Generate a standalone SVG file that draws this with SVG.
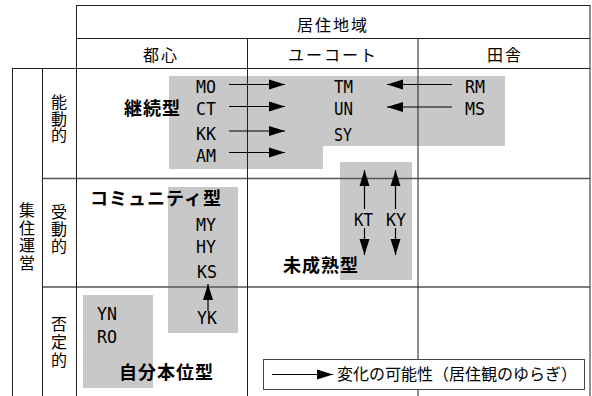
<svg xmlns="http://www.w3.org/2000/svg" width="592" height="396" viewBox="0 0 592 396">
<style>
.bg{fill:#c8c8c8;stroke:none}
.ln{stroke:#222;stroke-width:1;fill:none}
.lg{stroke:#555;stroke-width:1.5;fill:none}
.jp{font-family:"Noto Sans CJK JP","Noto Sans",sans-serif;font-size:16px;fill:#000}
.hd{letter-spacing:2px;text-anchor:middle}
.vt{writing-mode:vertical-rl;font-size:16px}
.ty{font-family:"Noto Sans CJK JP",sans-serif;font-size:18px;font-weight:bold;fill:#000;letter-spacing:1px}
.lb{font-family:"DejaVu Sans Mono","Liberation Mono",monospace;font-size:18px;fill:#000}
.ar{stroke:#000;stroke-width:1.2;fill:none;marker-end:url(#ah)}
</style>
<defs>
<marker id="ah" markerUnits="userSpaceOnUse" markerWidth="17" markerHeight="11" refX="16" refY="5.5" orient="auto">
<path d="M0,0.5 L16,5.5 L0,10.5 z" fill="#000"/>
</marker>
</defs>
<rect width="592" height="396" fill="#fff"/>

<g id="node-keizoku">
<polygon class="bg" points="169,76 505,76 505,146 323,146 323,169 169,169"/>
</g>
<g id="node-miseijuku">
<rect class="bg" x="340" y="162" width="72" height="118"/>
</g>
<g id="node-community">
<rect class="bg" x="168" y="187" width="70" height="146"/>
</g>
<g id="node-jibun">
<rect class="bg" x="83" y="295" width="70" height="93"/>
</g>

<g id="grid">
<line class="ln" x1="76" y1="5.5" x2="590" y2="5.5"/>
<line class="ln" x1="76" y1="38.5" x2="590" y2="38.5"/>
<line class="ln" x1="12" y1="68.5" x2="590" y2="68.5"/>
<line class="lg" x1="42" y1="178.5" x2="590" y2="178.5"/>
<line class="lg" x1="42" y1="287" x2="590" y2="287"/>
<line class="ln" x1="12.5" y1="68" x2="12.5" y2="396"/>
<line class="ln" x1="42.5" y1="68" x2="42.5" y2="396"/>
<line class="ln" x1="76.5" y1="5" x2="76.5" y2="396"/>
<line class="ln" x1="247.5" y1="38" x2="247.5" y2="396"/>
<line class="ln" x1="418" y1="38" x2="418" y2="396"/>
<line class="ln" x1="590" y1="5" x2="590" y2="396"/>
</g>

<g id="headers">
<text class="jp hd" x="333" y="31">居住地域</text>
<text class="jp hd" x="161" y="61">都心</text>
<text class="jp hd" x="333" y="61">ユーコート</text>
<text class="jp hd" x="505" y="61">田舎</text>
<text class="jp vt" x="59" y="94" letter-spacing="0.5">能動的</text>
<text class="jp vt" x="59" y="204" letter-spacing="1">受動的</text>
<text class="jp vt" x="59" y="316" letter-spacing="2">否定的</text>
<text class="jp vt" x="27" y="202" letter-spacing="1.5">集住運営</text>
</g>

<g id="types">
<text class="ty" x="124" y="115">継続型</text>
<text class="ty" x="90" y="205">コミュニティ型</text>
<text class="ty" x="283" y="272">未成熟型</text>
<text class="ty" x="119" y="379">自分本位型</text>
</g>

<g id="labels">
<text class="lb" x="196" y="93" textLength="20" lengthAdjust="spacingAndGlyphs">MO</text>
<text class="lb" x="196" y="115" textLength="20" lengthAdjust="spacingAndGlyphs">CT</text>
<text class="lb" x="196" y="140" textLength="20" lengthAdjust="spacingAndGlyphs">KK</text>
<text class="lb" x="196" y="162" textLength="20" lengthAdjust="spacingAndGlyphs">AM</text>
<text class="lb" x="334" y="93" textLength="19" lengthAdjust="spacingAndGlyphs">TM</text>
<text class="lb" x="334" y="115" textLength="19" lengthAdjust="spacingAndGlyphs">UN</text>
<text class="lb" x="334" y="141" textLength="18" lengthAdjust="spacingAndGlyphs">SY</text>
<text class="lb" x="465" y="93" textLength="20" lengthAdjust="spacingAndGlyphs">RM</text>
<text class="lb" x="465" y="115" textLength="20" lengthAdjust="spacingAndGlyphs">MS</text>
<text class="lb" x="354" y="226" textLength="19" lengthAdjust="spacingAndGlyphs">KT</text>
<text class="lb" x="386" y="226" textLength="20" lengthAdjust="spacingAndGlyphs">KY</text>
<text class="lb" x="196" y="231" textLength="20" lengthAdjust="spacingAndGlyphs">MY</text>
<text class="lb" x="196" y="253" textLength="20" lengthAdjust="spacingAndGlyphs">HY</text>
<text class="lb" x="197" y="278" textLength="20" lengthAdjust="spacingAndGlyphs">KS</text>
<text class="lb" x="197" y="324" textLength="20" lengthAdjust="spacingAndGlyphs">YK</text>
<text class="lb" x="97" y="320" textLength="20" lengthAdjust="spacingAndGlyphs">YN</text>
<text class="lb" x="97" y="343" textLength="20" lengthAdjust="spacingAndGlyphs">RO</text>
</g>

<g id="connectors">
<line class="ar" x1="229" y1="84.5" x2="285" y2="84.5"/>
<line class="ar" x1="229" y1="106.5" x2="285" y2="106.5"/>
<line class="ar" x1="229" y1="131" x2="285" y2="131"/>
<line class="ar" x1="229" y1="152.5" x2="285" y2="152.5"/>
<line class="ar" x1="452" y1="84.5" x2="387" y2="84.5"/>
<line class="ar" x1="452" y1="107" x2="387" y2="107"/>
<line class="ar" x1="364.5" y1="209" x2="364.5" y2="170"/>
<line class="ar" x1="364.5" y1="228" x2="364.5" y2="255"/>
<line class="ar" x1="395.5" y1="209" x2="395.5" y2="170"/>
<line class="ar" x1="395.5" y1="228" x2="395.5" y2="255"/>
<line class="ar" x1="208" y1="311" x2="208" y2="284"/>
</g>

<g id="legend">
<rect x="263.5" y="359.5" width="321" height="30" fill="#fff" stroke="#444" stroke-width="1"/>
<line class="ar" x1="272" y1="374.5" x2="333" y2="374.5"/>
<text class="jp" x="337" y="380" font-size="15.5px">変化の可能性（居住観のゆらぎ）</text>
</g>
</svg>
